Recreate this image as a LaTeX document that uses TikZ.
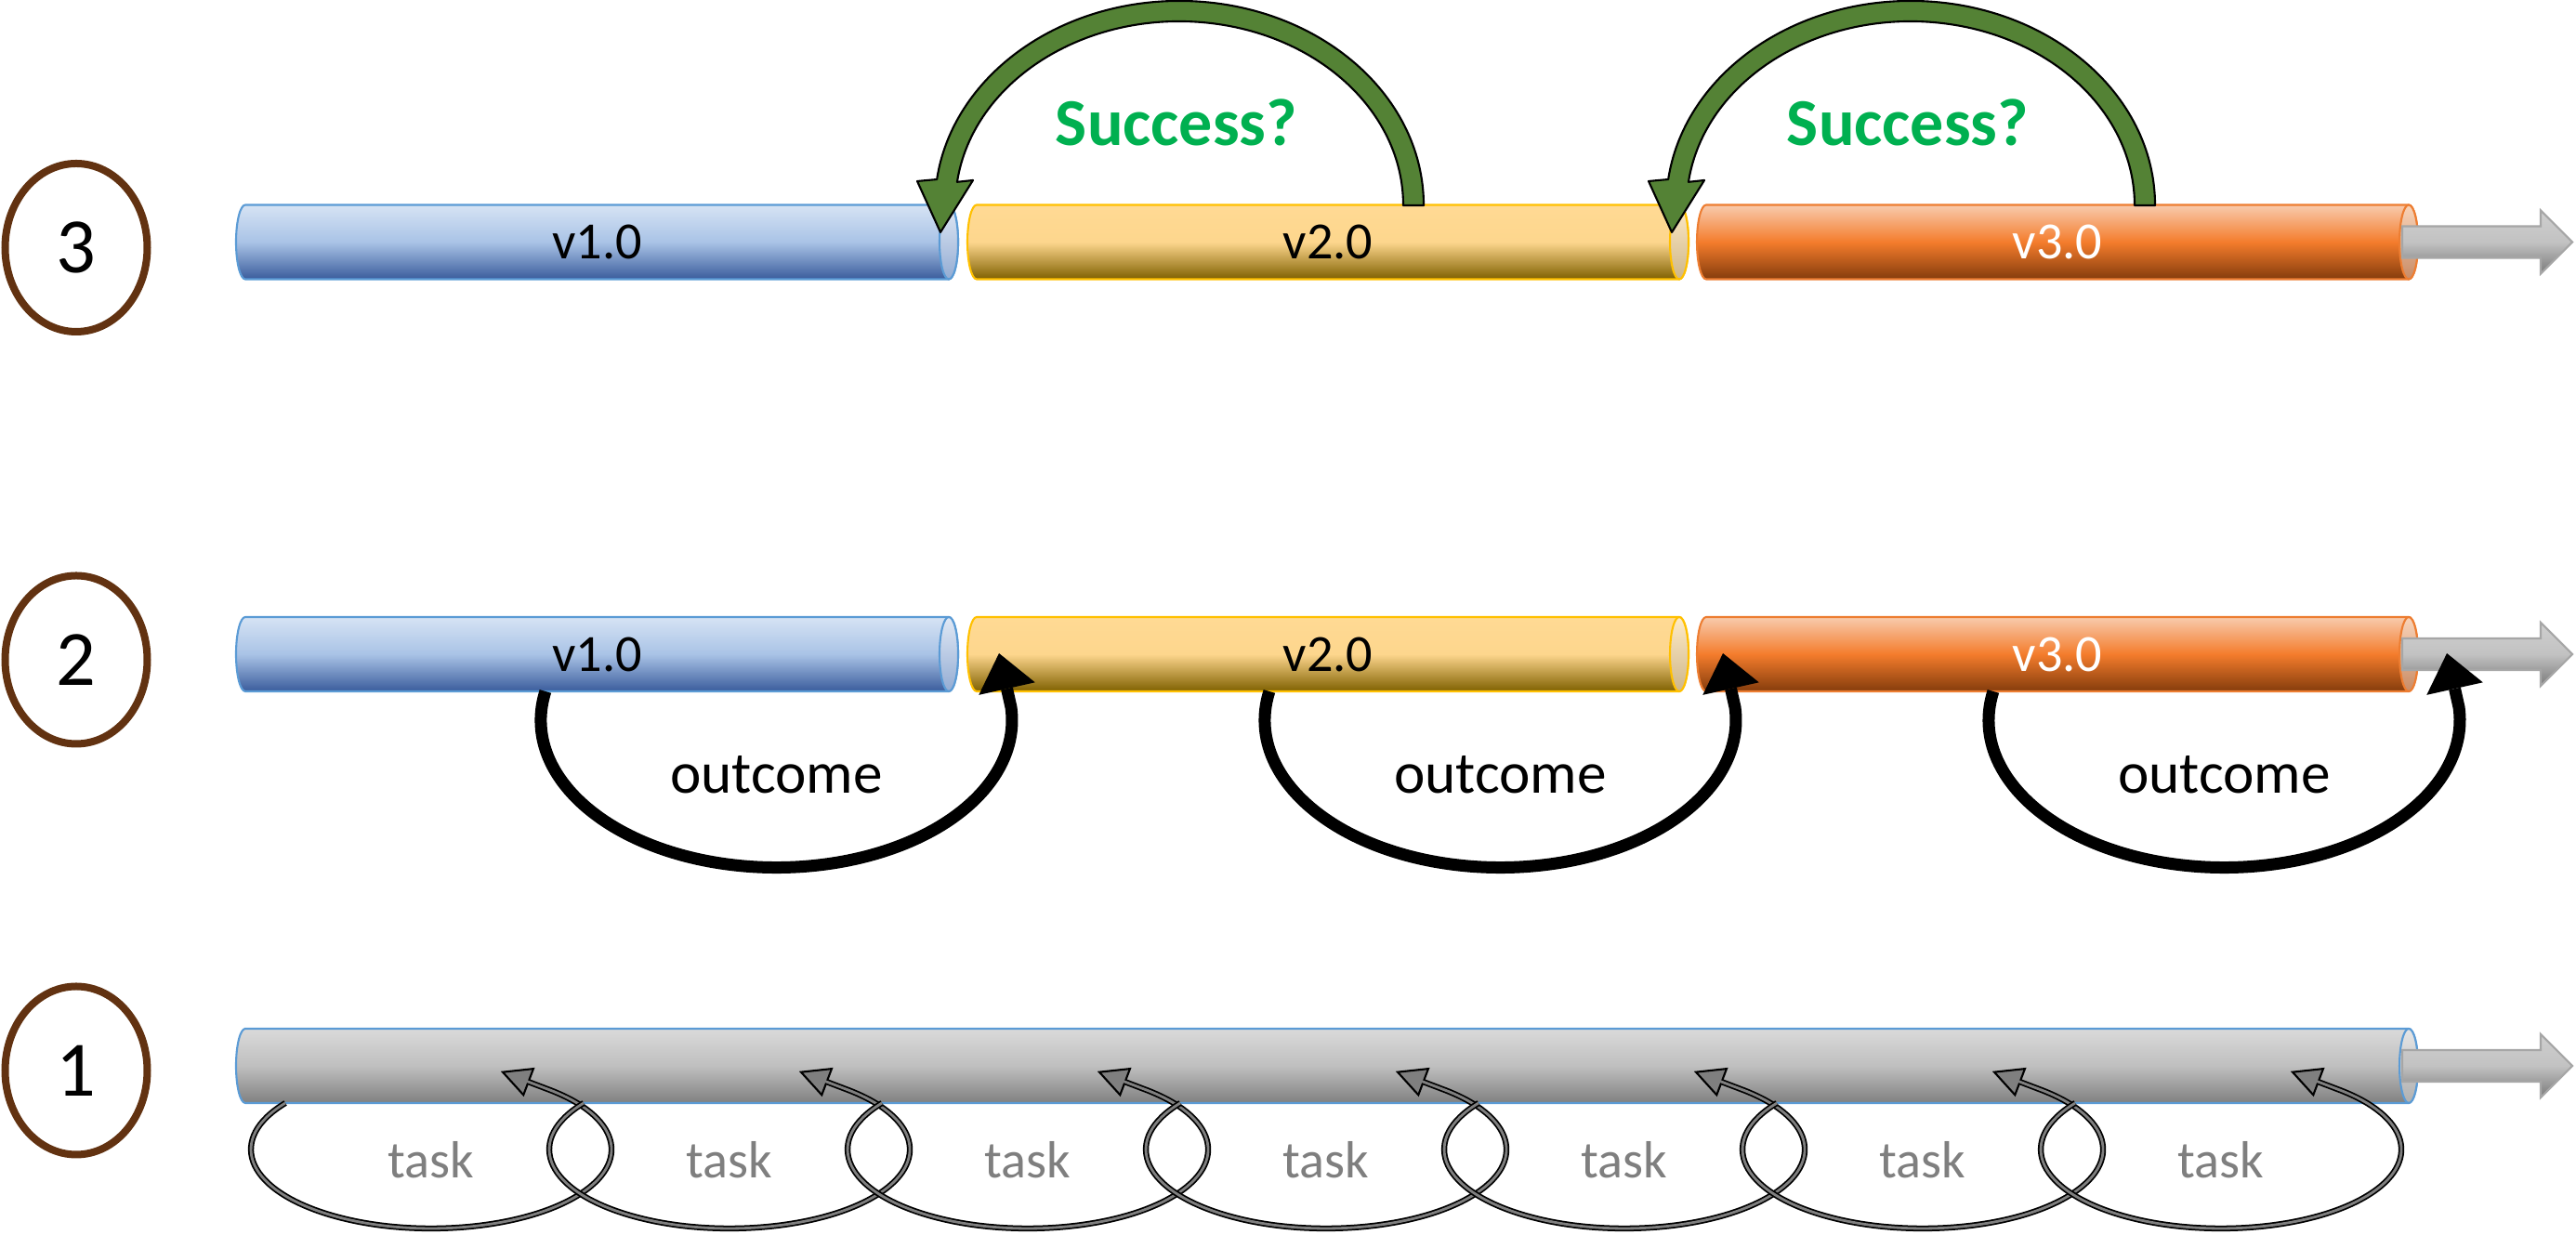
\documentclass[tikz,border=0pt]{standalone}
\usepackage{fontspec}
\setmainfont{Carlito}
\usepackage{xcolor}
\usepackage{tikz}
\usetikzlibrary{arrows.meta, shapes.geometric, calc}

\definecolor{bluT}{HTML}{D6E3F4}
\definecolor{bluM}{HTML}{A9C3E6}
\definecolor{bluB}{HTML}{3A5C9C}
\definecolor{bluL}{HTML}{5B9BD5}
\definecolor{bluF}{HTML}{E1E9F5}
\definecolor{bluG}{HTML}{93ACD3}
\definecolor{yelT}{HTML}{FFDA94}
\definecolor{yelM}{HTML}{FDD68D}
\definecolor{yelB}{HTML}{7F6000}
\definecolor{yelL}{HTML}{FFC000}
\definecolor{yelF}{HTML}{FFEBC6}
\definecolor{yelG}{HTML}{CDB68A}
\definecolor{orgT}{HTML}{F8CBAD}
\definecolor{orgM}{HTML}{F47C2C}
\definecolor{orgB}{HTML}{843C0C}
\definecolor{orgL}{HTML}{ED7D31}
\definecolor{orgF}{HTML}{F9D3B8}
\definecolor{orgG}{HTML}{C98C66}
\definecolor{gryT}{HTML}{DADADA}
\definecolor{gryM}{HTML}{BFBFBF}
\definecolor{gryB}{HTML}{808080}
\definecolor{gryL}{HTML}{5B9BD5}
\definecolor{gryF}{HTML}{E6E6E6}
\definecolor{gryG}{HTML}{B0B0B0}
\definecolor{arwT}{HTML}{CFCFCF}
\definecolor{arwM}{HTML}{C2C2C2}
\definecolor{arwB}{HTML}{7A7A7A}
\definecolor{arwL}{HTML}{A6A6A6}
\definecolor{succG}{HTML}{548235}
\definecolor{succT}{HTML}{00B050}
\definecolor{brn}{HTML}{623211}
\definecolor{taskG}{HTML}{7F7F7F}

\begin{document}
\begin{tikzpicture}[
    num/.style={ellipse, draw=brn, line width=0.08cm, minimum width=1.53cm, minimum height=1.81cm, inner sep=0pt, font=\fontsize{24}{28}\selectfont},
    vlbl/.style={font=\fontsize{16}{19}\selectfont, inner sep=0pt},
    outlbl/.style={font=\fontsize{18}{21}\selectfont, anchor=base, inner sep=0pt},
    tasklbl/.style={font=\fontsize{16}{19}\selectfont, text=taskG, anchor=base, inner sep=0pt},
    succlbl/.style={font=\fontsize{20.5}{24}\selectfont\bfseries, text=succT, anchor=base, inner sep=0pt},
    outloop/.style={black, line width=0.13cm, -{Triangle[length=0.39cm, width=0.62cm, line width=0pt]}},
    taskloop/.style={black, line width=1.8pt, -{Triangle[length=0.33cm, width=0.33cm, line width=0.6pt, fill=taskG]}},
    taskcore/.style={taskG, line width=0.8pt, shorten >=0.3cm},
    succarrow/.style={fill=succG, draw=black, line width=0.6pt, line join=round},
    endarrow/.style={draw=arwL, line width=0.6pt, top color=arwT, bottom color=arwB, middle color=arwM}
]
    \useasboundingbox (0,0) rectangle (27.72,13.29);

    % Các số thứ tự bên trái
    \node[num] (n3) at (0.82,10.625) {3};
    \node[num] (n2) at (0.82,6.19) {2};
    \node[num] (n1) at (0.82,1.77) {1};

    % Các ống phiên bản v1.0, v2.0, v3.0 (hàng 3 và hàng 2)
    \foreach \xa/\xb/\yy/\cl/\txt/\tc/\nm in {2.64/10.21/10.685/blu/v1.0/black/v31, 10.51/18.07/10.685/yel/v2.0/black/v32, 18.36/25.92/10.685/org/v3.0/white/v33, 2.64/10.21/6.25/blu/v1.0/black/v21, 10.51/18.07/6.25/yel/v2.0/black/v22, 18.36/25.92/6.25/org/v3.0/white/v23}
    {
        \draw[draw=\cl L, line width=0.6pt, top color=\cl T, bottom color=\cl B, middle color=\cl M]
            (\xa,\yy+0.4) -- (\xb,\yy+0.4) arc[start angle=90, end angle=-90, x radius=0.1, y radius=0.4]
            -- (\xa,\yy-0.4) arc[start angle=270, end angle=90, x radius=0.1, y radius=0.4] -- cycle;
        \draw[draw=\cl L, line width=0.6pt, top color=\cl F, bottom color=\cl G] (\xb,\yy) ellipse[x radius=0.1, y radius=0.4];
        \node[vlbl, text=\tc] (\nm) at ({(\xa+\xb)/2},\yy) {\txt};
    }

    % Ống xám liền (hàng 1)
    \draw[draw=gryL, line width=0.6pt, top color=gryT, bottom color=gryB, middle color=gryM]
        (2.64,2.22) -- (25.92,2.22) arc[start angle=90, end angle=-90, x radius=0.1, y radius=0.4]
        -- (2.64,1.42) arc[start angle=270, end angle=90, x radius=0.1, y radius=0.4] -- cycle;
    \draw[draw=gryL, line width=0.6pt, top color=gryF, bottom color=gryG] (25.92,1.82) ellipse[x radius=0.1, y radius=0.4];

    % Mũi tên xám ở cuối mỗi hàng
    \foreach \yy in {10.685,6.25,1.82}
        \draw[endarrow] (25.85,\yy+0.17) -- (27.34,\yy+0.17) -- (27.34,\yy+0.34) -- (27.68,\yy)
            -- (27.34,\yy-0.34) -- (27.34,\yy-0.17) -- (25.85,\yy-0.17) -- cycle;

    % Mũi tên cong màu xanh lá "Success?" (hàng 3)
    \foreach \gx/\nm in {12.69/s1, 20.56/s2} {
        \begin{scope}[shift={(\gx,11.08)}]
            \draw[succarrow] (2.41,0) -- (2.63,0) arc[start angle=0, end angle=172.7, x radius=2.63, y radius=2.20]
                -- (-2.82,0.26) -- (-2.57,-0.29) -- (-2.22,0.27) -- (-2.3905,0.2516)
                arc[start angle=172.7, end angle=0, x radius=2.41, y radius=1.98] -- cycle;
            \node[succlbl] (\nm) at (-0.03,0.64) {Success?};
        \end{scope}
    }

    % Vòng "outcome" màu đen (hàng 2)
    \foreach \ox/\k in {8.355/1, 16.145/2, 23.935/3} {
        \coordinate (o\k) at (\ox-2.486,5.85);
        \draw[outloop] (o\k) arc[start angle=168.7, end angle=365, x radius=2.535, y radius=1.585] -- ++(-0.13,0.582);
        \node[outlbl] (out\k) at (\ox,4.75) {outcome};
    }

    % Các vòng "task" nối tiếp nhau (hàng 1)
    \foreach \k in {0,...,6} {
        \pgfmathsetmacro{\tx}{4.64+3.21*\k}
        \coordinate (t\k) at (\tx-1.569,1.42);
        \draw[taskloop] (t\k) arc[start angle=144, end angle=410, x radius=1.94, y radius=0.85] -- ++(-0.50,0.19);
        \draw[taskcore] (t\k) arc[start angle=144, end angle=410, x radius=1.94, y radius=0.85] -- ++(-0.50,0.19);
        \node[tasklbl] (task\k) at (\tx,0.61) {task};
    }
\end{tikzpicture}
\end{document}
